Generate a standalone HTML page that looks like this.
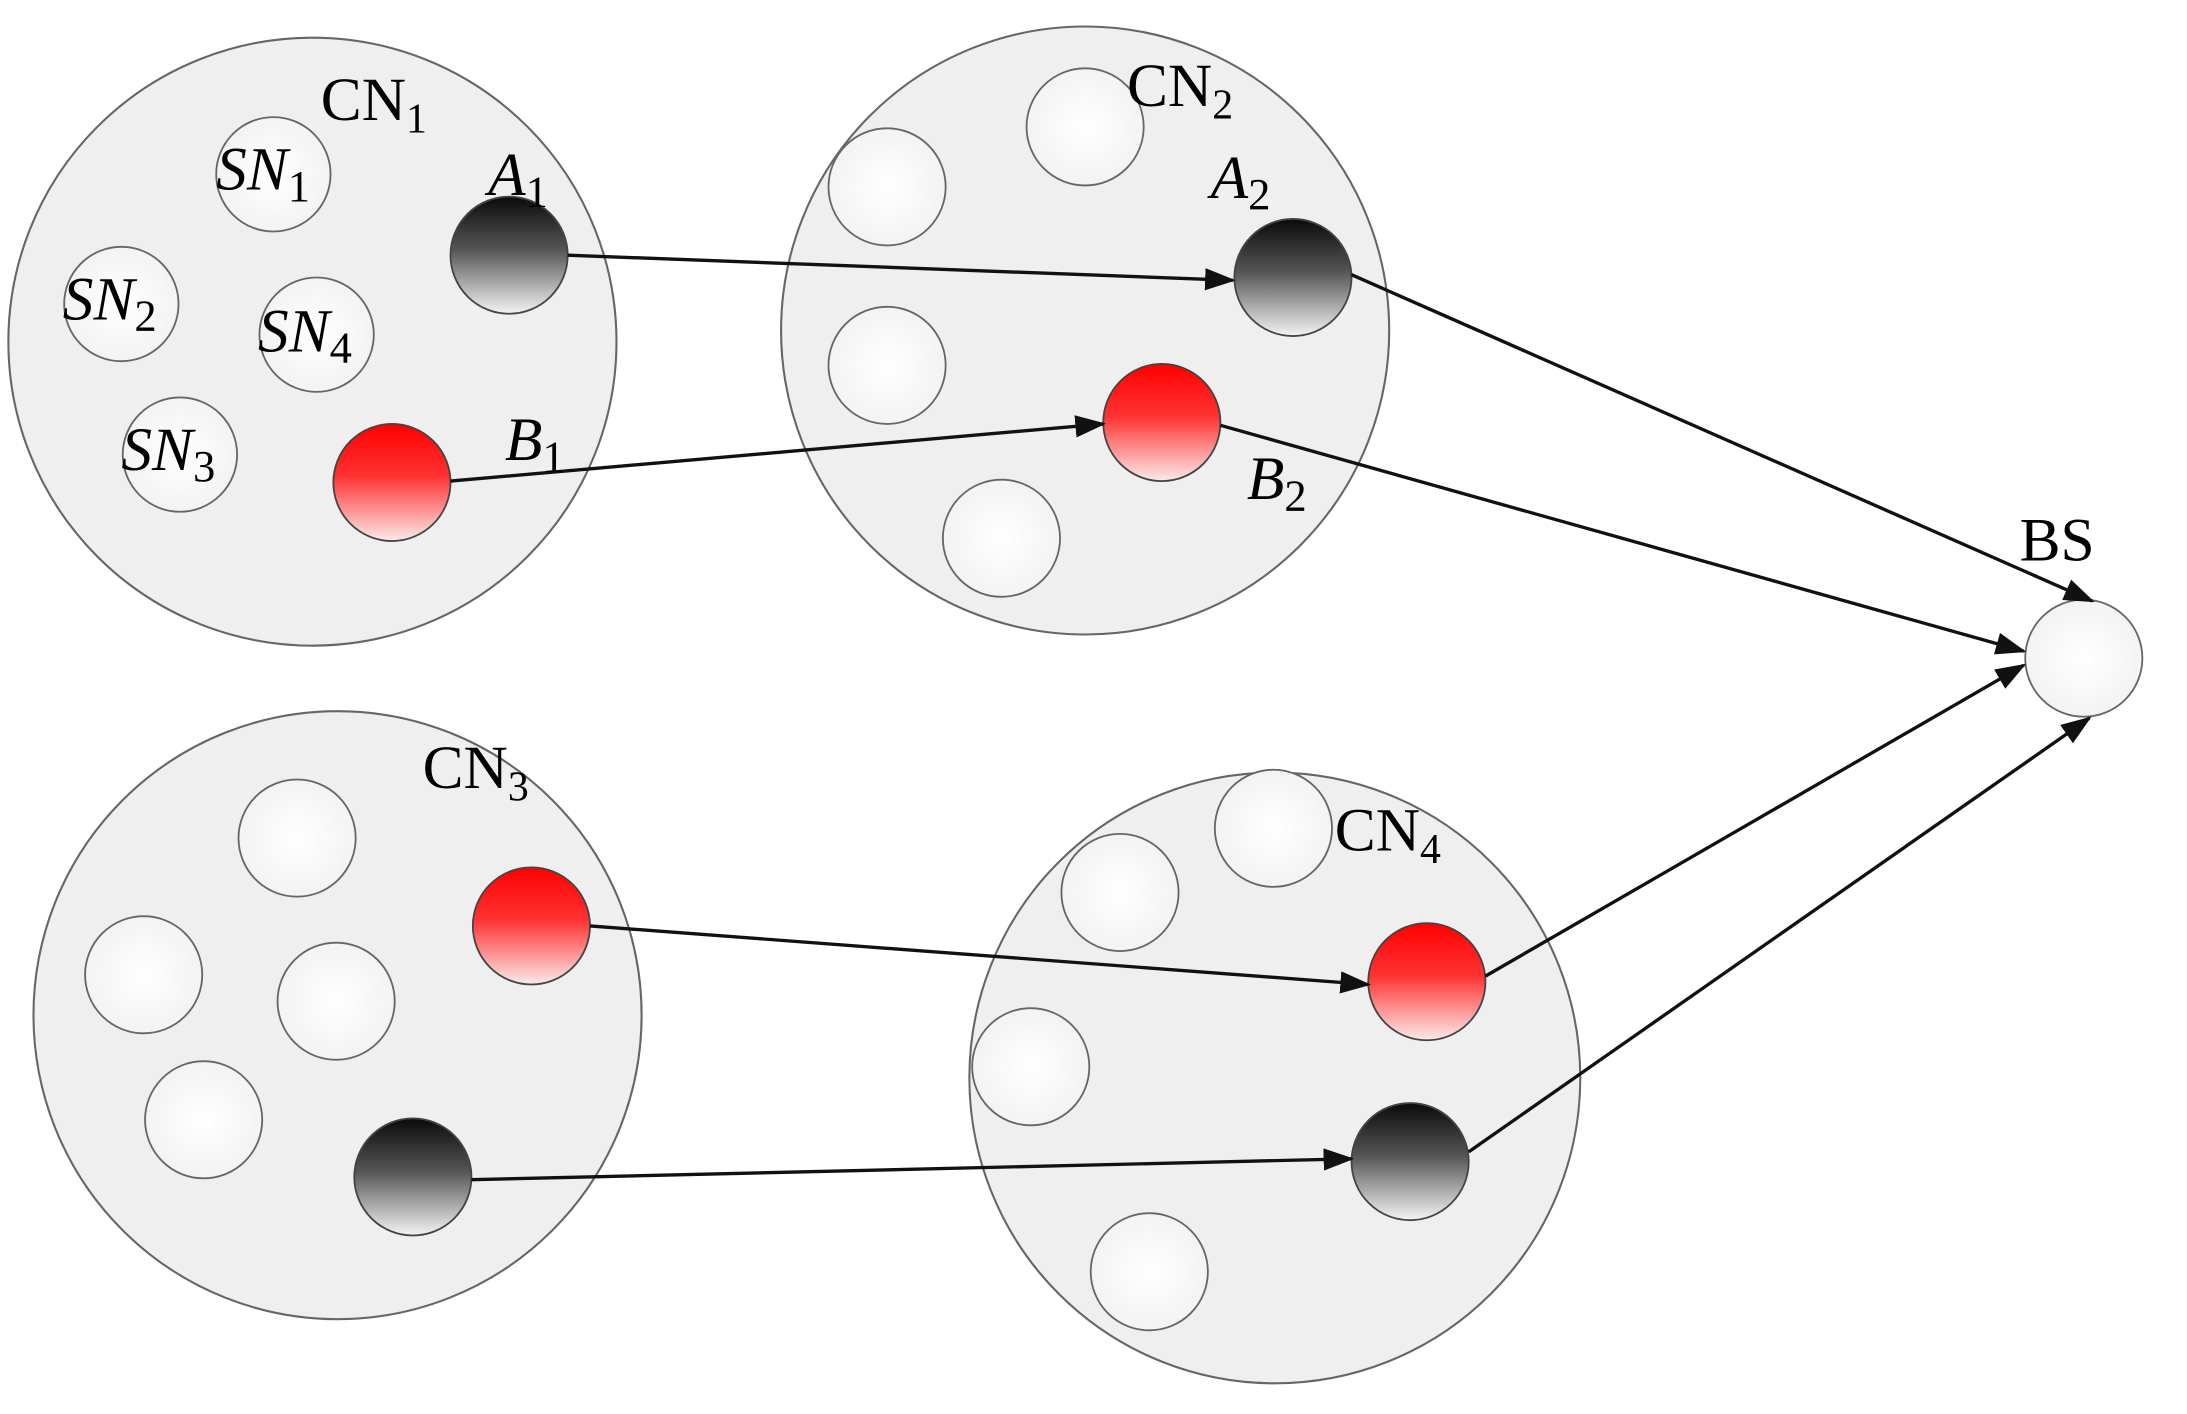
<!DOCTYPE html>
<html><head><meta charset="utf-8"><style>
html,body{margin:0;padding:0;background:#fff;}
svg{display:block;}
text{font-family:"Liberation Serif",serif;fill:#000;}
</style></head><body>
<svg width="2187" height="1414" viewBox="0 0 1568 1014" preserveAspectRatio="none" xmlns="http://www.w3.org/2000/svg">
<defs>
<linearGradient id="gb" x1="0" y1="0" x2="0" y2="1"><stop offset="0" stop-color="#0a0a0a"/><stop offset="0.45" stop-color="#555"/><stop offset="1" stop-color="#f4f4f4"/></linearGradient>
<linearGradient id="gr" x1="0" y1="0" x2="0" y2="1"><stop offset="0" stop-color="#ff0000"/><stop offset="0.45" stop-color="#f33"/><stop offset="1" stop-color="#fbeaea"/></linearGradient>
<radialGradient id="gw" cx="0.5" cy="0.5" r="0.5"><stop offset="0" stop-color="#fff"/><stop offset="1" stop-color="#f3f3f3"/></radialGradient>
<marker id="ar" markerWidth="22" markerHeight="16" refX="20" refY="8" orient="auto" markerUnits="userSpaceOnUse" viewBox="0 0 22 16"><path d="M0,0 L22,8 L0,16 z" fill="#111"/></marker>
</defs>
<g stroke="#666" stroke-width="1.5" fill="#efefef">
<circle cx="224" cy="245" r="218"/>
<circle cx="778" cy="237" r="218"/>
<circle cx="242" cy="728" r="218"/>
<circle cx="914" cy="773" r="219"/>
</g>
<g stroke="#666" stroke-width="1.3" fill="url(#gw)">
<circle cx="196" cy="125" r="41"/><circle cx="87" cy="218" r="41"/><circle cx="227" cy="240" r="41"/><circle cx="129" cy="326" r="41"/>
<circle cx="636" cy="134" r="42"/><circle cx="778" cy="91" r="42"/><circle cx="636" cy="262" r="42"/><circle cx="718" cy="386" r="42"/>
<circle cx="213" cy="601" r="42"/><circle cx="103" cy="699" r="42"/><circle cx="241" cy="718" r="42"/><circle cx="146" cy="803" r="42"/>
<circle cx="913" cy="594" r="42"/><circle cx="803" cy="640" r="42"/><circle cx="739" cy="765" r="42"/><circle cx="824" cy="912" r="42"/>
<circle cx="1494" cy="472" r="42"/>
</g>
<g stroke="#444" stroke-width="1.3">
<circle cx="365" cy="183" r="42" fill="url(#gb)"/>
<circle cx="927" cy="199" r="42" fill="url(#gb)"/>
<circle cx="296" cy="844" r="42" fill="url(#gb)"/>
<circle cx="1011" cy="833" r="42" fill="url(#gb)"/>
<circle cx="281" cy="346" r="42" fill="url(#gr)"/>
<circle cx="833" cy="303" r="42" fill="url(#gr)"/>
<circle cx="381" cy="664" r="42" fill="url(#gr)"/>
<circle cx="1023" cy="704" r="42" fill="url(#gr)"/>
</g>
<g stroke="#111" stroke-width="2.4" fill="none" marker-end="url(#ar)">
<line x1="407" y1="183" x2="884" y2="201"/>
<line x1="323" y1="345" x2="791" y2="304"/>
<line x1="423" y1="664" x2="981" y2="706"/>
<line x1="338" y1="846" x2="969" y2="831"/>
<line x1="969" y1="197" x2="1500" y2="431"/>
<line x1="875" y1="305" x2="1451" y2="467"/>
<line x1="1065" y1="700" x2="1451" y2="477"/>
<line x1="1053" y1="826" x2="1498" y2="515"/>
</g>
<g font-size="44">
<text x="230" y="86">CN<tspan font-size="30" dy="9">1</tspan></text>
<text x="808" y="76">CN<tspan font-size="30" dy="9">2</tspan></text>
<text x="303" y="565">CN<tspan font-size="30" dy="9">3</tspan></text>
<text x="957" y="610">CN<tspan font-size="30" dy="9">4</tspan></text>
<text x="1448" y="402">BS</text>
</g>
<g font-size="44" font-style="italic">
<text x="350" y="140">A<tspan font-size="32" font-style="normal" dy="8">1</tspan></text>
<text x="868" y="142">A<tspan font-size="32" font-style="normal" dy="8">2</tspan></text>
<text x="362" y="330">B<tspan font-size="32" font-style="normal" dy="8">1</tspan></text>
<text x="894" y="358">B<tspan font-size="32" font-style="normal" dy="8">2</tspan></text>
<text x="155" y="136">SN<tspan font-size="32" font-style="normal" dy="8">1</tspan></text>
<text x="45" y="229">SN<tspan font-size="32" font-style="normal" dy="8">2</tspan></text>
<text x="185" y="252">SN<tspan font-size="32" font-style="normal" dy="8">4</tspan></text>
<text x="87" y="337">SN<tspan font-size="32" font-style="normal" dy="8">3</tspan></text>
</g>
</svg>
</body></html>
